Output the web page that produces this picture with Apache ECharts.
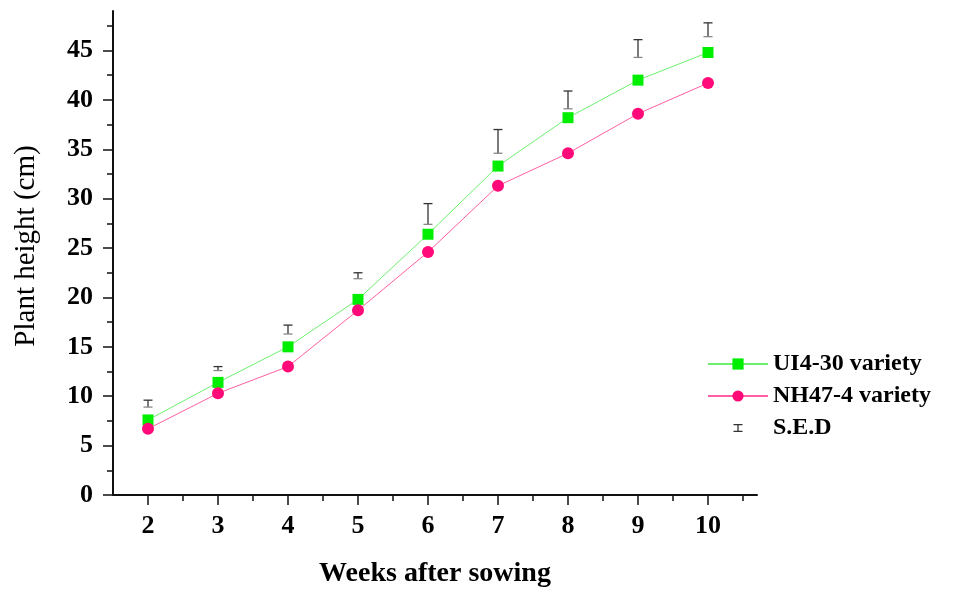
<!DOCTYPE html>
<html>
<head>
<meta charset="utf-8">
<script src="https://cdn.jsdelivr.net/npm/echarts@6/dist/echarts.min.js"></script>
<style>html,body{margin:0;padding:0;background:#fff;}#c{width:955px;height:593px;}</style>
</head>
<body>
<div id="c"></div>
<script>
const weeks = [2, 3, 4, 5, 6, 7, 8, 9, 10];
const ui430 = [7.6, 11.4, 15.0, 19.8, 26.4, 33.3, 38.2, 42.0, 44.8];
const nh474 = [6.7, 10.3, 13.0, 18.7, 24.6, 31.3, 34.6, 38.6, 41.7];
const sedLow = [8.9, 12.6, 16.3, 21.9, 27.4, 34.6, 39.1, 44.3, 46.4];
const sedHigh = [9.6, 13.0, 17.2, 22.5, 29.5, 37.0, 40.9, 46.1, 47.8];
const xMajorTicks = [2, 3, 4, 5, 6, 7, 8, 9, 10];
const xMinorTicks = [2.5, 3.5, 4.5, 5.5, 6.5, 7.5, 8.5, 9.5, 10.5];
const yMajorTicks = [0, 5, 10, 15, 20, 25, 30, 35, 40, 45];
const yMinorTicks = [2.5, 7.5, 12.5, 17.5, 22.5, 27.5, 32.5, 37.5, 42.5, 47.5];
const seriesNames = ['UI4-30 variety', 'NH47-4 variety', 'S.E.D'];

const FONT = "'Liberation Serif', 'DejaVu Serif', serif";
const chart = echarts.init(document.getElementById('c'));
const axisCol = '#111';

const sedIcon = 'path://M0,0 M60,14 M25.5,3 h9 v1.3 h-3.85 v5.4 h3.85 v1.3 h-9 v-1.3 h3.85 v-5.4 h-3.85 z';

chart.setOption({
  animation: false,
  backgroundColor: '#fff',
  grid: { left: 113, right: 198, top: 11, bottom: 98 },
  legend: {
    orient: 'vertical',
    left: 707,
    top: 352,
    padding: 0,
    itemWidth: 60,
    itemHeight: 14,
    itemGap: 8,
    data: [
      { name: seriesNames[0] },
      { name: seriesNames[1] },
      { name: seriesNames[2], icon: sedIcon }
    ],
    textStyle: { fontFamily: FONT, fontWeight: 'bold', fontSize: 24, color: '#000', lineHeight: 24 }
  },
  xAxis: [
    {
      type: 'value', min: 1.5, max: 10.7, position: 'bottom',
      name: 'Weeks after sowing', nameLocation: 'middle', nameGap: 65,
      nameTextStyle: { fontFamily: FONT, fontWeight: 'bold', fontSize: 28, color: '#000' },
      axisLine: { show: true, onZero: false, lineStyle: { color: axisCol, width: 2 } },
      axisTick: { show: true, length: 10, customValues: xMajorTicks, lineStyle: { color: axisCol, width: 1.5 } },
      axisLabel: { customValues: xMajorTicks, margin: 18, fontFamily: FONT, fontWeight: 'bold', fontSize: 26, color: '#000' },
      splitLine: { show: false }
    },
    {
      type: 'value', min: 1.5, max: 10.7, position: 'bottom',
      axisLine: { show: false, onZero: false },
      axisTick: { show: true, length: 6, customValues: xMinorTicks, lineStyle: { color: axisCol, width: 1.5 } },
      axisLabel: { show: false },
      splitLine: { show: false }
    }
  ],
  yAxis: [
    {
      type: 'value', min: 0, max: 49, position: 'left',
      name: 'Plant height (cm)', nameLocation: 'middle', nameGap: 72, nameRotate: 90,
      nameTextStyle: { fontFamily: FONT, fontWeight: 'normal', fontSize: 29, color: '#000', padding: [0, 0, 0, 14] },
      axisLine: { show: true, onZero: false, lineStyle: { color: axisCol, width: 2 } },
      axisTick: { show: true, length: 10, customValues: yMajorTicks, lineStyle: { color: axisCol, width: 1.5 } },
      axisLabel: { customValues: yMajorTicks, margin: 20, fontFamily: FONT, fontWeight: 'bold', fontSize: 26, color: '#000' },
      splitLine: { show: false }
    },
    {
      type: 'value', min: 0, max: 49, position: 'left',
      axisLine: { show: false, onZero: false },
      axisTick: { show: true, length: 6, customValues: yMinorTicks, lineStyle: { color: axisCol, width: 1.5 } },
      axisLabel: { show: false },
      splitLine: { show: false }
    }
  ],
  series: [
    {
      name: seriesNames[0], type: 'line', xAxisIndex: 0, yAxisIndex: 0,
      data: weeks.map((w, i) => [w, ui430[i]]),
      symbol: 'rect', symbolSize: 11,
      itemStyle: { color: '#00ee00' },
      lineStyle: { color: '#6ef06e', width: 1 },
      z: 3
    },
    {
      name: seriesNames[1], type: 'line', xAxisIndex: 0, yAxisIndex: 0,
      data: weeks.map((w, i) => [w, nh474[i]]),
      symbol: 'circle', symbolSize: 12,
      itemStyle: { color: '#ff0a78' },
      lineStyle: { color: '#ff5fa3', width: 1 },
      z: 3
    },
    {
      name: seriesNames[2], type: 'custom', xAxisIndex: 0, yAxisIndex: 0,
      itemStyle: { color: '#333' },
      data: weeks.map((w, i) => [w, sedLow[i], sedHigh[i]]),
      encode: { x: 0, y: [1, 2] },
      renderItem: function (params, api) {
        const x = api.value(0);
        const pHi = api.coord([x, api.value(2)]);
        const pLo = api.coord([x, api.value(1)]);
        const hw = 4.5;
        const st = { stroke: '#333', lineWidth: 1.3 };
        return {
          type: 'group',
          children: [
            { type: 'line', shape: { x1: pHi[0], y1: pHi[1], x2: pLo[0], y2: pLo[1] }, style: st },
            { type: 'line', shape: { x1: pHi[0] - hw, y1: pHi[1], x2: pHi[0] + hw, y2: pHi[1] }, style: st },
            { type: 'line', shape: { x1: pLo[0] - hw, y1: pLo[1], x2: pLo[0] + hw, y2: pLo[1] }, style: { stroke: '#888', lineWidth: 1.3 } }
          ]
        };
      },
      z: 2
    }
  ]
});
</script>
</body>
</html>
